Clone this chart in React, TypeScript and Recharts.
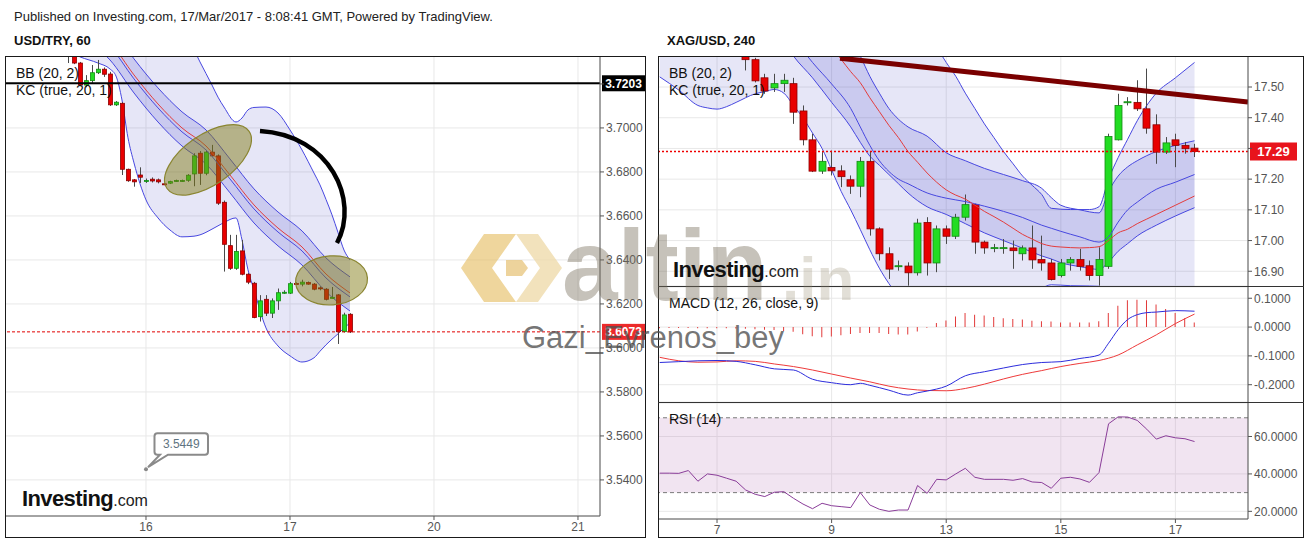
import React from "react";
import {
  ComposedChart,
  Bar,
  Line,
  Area,
  XAxis,
  YAxis,
  CartesianGrid,
  ReferenceLine,
  ReferenceDot,
  ReferenceArea,
} from "recharts";

const FONT = "'Liberation Sans', Arial, Helvetica, sans-serif";

// ---------------- USD/TRY, 60 (x = trading hours from 16 Mar 00:00) ----------------
const usdTryHours = [
  -13, -12, -11, -10, -9, -8, -7, -6, -5, -4, -3, -2, -1, 0, 1, 2, 3, 4, 5, 6, 7, 8, 9, 10, 11, 12, 13, 14, 15, 16,
  17, 18, 19, 20, 21, 22, 23, 24, 25, 26, 27, 28, 29, 30, 31, 32, 33, 34,
];
const usdTryOpen = [
  3.736, 3.736, 3.7295, 3.7195, 3.7215, 3.7251, 3.7267, 3.7245, 3.7105, 3.7112,
  3.6812, 3.6764, 3.6786, 3.6758, 3.6767, 3.6764, 3.6746, 3.6749, 3.6759, 3.6759,
  3.6762, 3.6791, 3.6885, 3.6794, 3.689, 3.6873, 3.6662, 3.6465, 3.6362, 3.6441,
  3.6335, 3.6294, 3.6142, 3.6221, 3.6158, 3.6214, 3.625, 3.6249, 3.6293, 3.629,
  3.6297, 3.629, 3.6273, 3.6267, 3.6227, 3.6241, 3.6074, 3.6153,
];
const usdTryHigh = [
  3.74, 3.738, 3.73, 3.724, 3.7286, 3.7309, 3.7275, 3.7255, 3.7122, 3.7117,
  3.6815, 3.6768, 3.6821, 3.677, 3.6775, 3.677, 3.675, 3.676, 3.6765, 3.6765,
  3.679, 3.6885, 3.6895, 3.69, 3.6923, 3.688, 3.667, 3.6514, 3.6514, 3.6491,
  3.634, 3.63, 3.624, 3.624, 3.6225, 3.627, 3.6262, 3.63, 3.6298, 3.631,
  3.6302, 3.6295, 3.628, 3.6272, 3.6277, 3.6245, 3.616, 3.6158,
];
const usdTryLow = [
  3.7295, 3.729, 3.719, 3.7185, 3.7205, 3.7245, 3.7232, 3.71, 3.71, 3.6786,
  3.6755, 3.6733, 3.675, 3.675, 3.6752, 3.6748, 3.674, 3.6745, 3.6755, 3.6755,
  3.6755, 3.6735, 3.6741, 3.6785, 3.687, 3.665, 3.6347, 3.6355, 3.6355, 3.633,
  3.629, 3.6135, 3.612, 3.6145, 3.6136, 3.6173, 3.6245, 3.6245, 3.6288, 3.628,
  3.6287, 3.6262, 3.6262, 3.6216, 3.6225, 3.6018, 3.607, 3.6068,
];
const usdTryClose = [
  3.734, 3.7295, 3.7195, 3.7215, 3.7251, 3.7267, 3.7244, 3.7105, 3.7117, 3.6812,
  3.676, 3.6755, 3.6776, 3.6761, 3.6759, 3.6755, 3.6744, 3.6756, 3.6761, 3.6761,
  3.6785, 3.6873, 3.6794, 3.689, 3.6873, 3.6658, 3.6471, 3.6362, 3.6438, 3.6335,
  3.6299, 3.6138, 3.6214, 3.6158, 3.6214, 3.6251, 3.6253, 3.6292, 3.6291, 3.6299,
  3.629, 3.6267, 3.6271, 3.6221, 3.623, 3.6074, 3.615, 3.6073,
];
const usdTryBbHours = [-14, -11, -8, -6, -5, -4, -3, -2, 0, 2, 4, 6, 8, 9, 11, 12, 13, 15, 16, 17, 18, 20, 22, 24, 26, 28, 29, 30, 31, 32, 33, 34];
const usdTryBbUpper = [
  3.805, 3.8, 3.795, 3.79, 3.787, 3.784, 3.78, 3.776, 3.768, 3.76, 3.752, 3.744, 3.7355, 3.73, 3.7195, 3.714,
  3.7095, 3.7027, 3.7045, 3.7082, 3.7093, 3.7095, 3.7068, 3.6991, 3.69, 3.6795, 3.6741, 3.6675, 3.6605, 3.6525,
  3.6445, 3.64,
];
const usdTryBbLower = [
  3.7364, 3.7323, 3.7295, 3.7268, 3.7236, 3.7127, 3.6955, 3.6841, 3.6673, 3.6591, 3.6536, 3.6505, 3.6508, 3.6514,
  3.654, 3.6555, 3.657, 3.6591, 3.6491, 3.6355, 3.6264, 3.6091, 3.6009, 3.5964, 3.5936, 3.5955, 3.5985, 3.6014,
  3.604, 3.6064, 3.609, 3.6114,
];
const usdTryKcHours = [-14, -10, -6, -2, 2, 6, 10, 14, 18, 22, 26, 30, 34];
const usdTryKcUpper = [3.767, 3.756, 3.7464, 3.7314, 3.7182, 3.7073, 3.6991, 3.6859, 3.6723, 3.6618, 3.6532, 3.6409, 3.6323];
const usdTryKcBasis = [3.758, 3.747, 3.7373, 3.7223, 3.7091, 3.6982, 3.69, 3.6768, 3.6632, 3.6527, 3.6441, 3.6318, 3.6232];
const usdTryKcLower = [3.75, 3.74, 3.7309, 3.7159, 3.7027, 3.6918, 3.6836, 3.6705, 3.6568, 3.6464, 3.6377, 3.6255, 3.6168];
const usdTryBbBasis = [3.76, 3.7485, 3.7391, 3.7241, 3.7109, 3.7, 3.6918, 3.6786, 3.665, 3.6545, 3.6459, 3.6336, 3.625];
const usdTryDayTicks = [0, 24, 48, 72];
const usdTryDayLabels = ["16", "17", "20", "21"];
const usdTryPriceTicks = [3.54, 3.56, 3.58, 3.6, 3.62, 3.64, 3.66, 3.68, 3.7, 3.72];
const usdTryLevel = 3.7203;
const usdTryLast = 3.6073;
const usdTryCallout = [0, 3.5449];
const usdTryEllipseA = [10.33, 3.6855];
const usdTryEllipseB = [30.92, 3.6307];
const usdTryArcStart = [19, 3.6986];

// ---------------- XAG/USD, 240 (x = 4h bars from 7 Mar 00:00) ----------------
const xagBars = [
  3, 4, 5, 6, 7, 8, 9, 10, 11, 12, 13, 14, 15, 16, 17, 18, 19, 20, 21, 22, 23, 24, 25, 26, 27, 28, 29, 30, 31, 32,
  33, 34, 35, 36, 37, 38, 39, 40, 41, 42, 43, 44, 45, 46, 47, 48, 49, 50,
];
const xagOpen = [
  17.615, 17.589, 17.53, 17.497, 17.511, 17.511, 17.422, 17.328, 17.226, 17.238,
  17.227, 17.198, 17.177, 17.258, 17.038, 16.957, 16.917, 16.917, 16.895, 17.059,
  16.927, 17.038, 17.014, 17.076, 17.117, 16.995, 16.975, 16.975, 16.976, 16.957,
  16.976, 16.938, 16.927, 16.886, 16.927, 16.938, 16.918, 16.886, 16.916, 17.328,
  17.45, 17.45, 17.429, 17.377, 17.288, 17.328, 17.31, 17.301,
];
const xagHigh = [
  17.63, 17.595, 17.543, 17.543, 17.543, 17.53, 17.44, 17.348, 17.288, 17.293,
  17.245, 17.212, 17.272, 17.29, 17.043, 16.978, 16.935, 16.929, 17.071, 17.076,
  17.049, 17.049, 17.087, 17.15, 17.12, 17.0, 16.989, 17.005, 17.0, 16.984,
  17.049, 17.016, 16.94, 16.94, 16.946, 16.973, 16.935, 16.978, 17.348, 17.478,
  17.467, 17.522, 17.56, 17.411, 17.337, 17.348, 17.321, 17.315,
];
const xagLow = [
  17.554, 17.515, 17.478, 17.484, 17.484, 17.38, 17.31, 17.223, 17.217, 17.212,
  17.174, 17.152, 17.141, 17.016, 16.935, 16.875, 16.902, 16.853, 16.886, 16.886,
  16.897, 16.989, 17.005, 17.065, 16.957, 16.957, 16.962, 16.957, 16.908, 16.935,
  16.908, 16.902, 16.87, 16.88, 16.902, 16.902, 16.87, 16.853, 16.908, 17.326,
  17.44, 17.422, 17.348, 17.25, 17.282, 17.239, 17.283, 17.272,
];
const xagClose = [
  17.589, 17.52, 17.487, 17.511, 17.522, 17.418, 17.328, 17.226, 17.258, 17.227,
  17.208, 17.177, 17.258, 17.038, 16.957, 16.907, 16.918, 16.895, 17.057, 16.927,
  17.038, 17.014, 17.076, 17.117, 16.995, 16.976, 16.977, 16.977, 16.967, 16.976,
  16.937, 16.927, 16.873, 16.927, 16.938, 16.916, 16.886, 16.938, 17.339, 17.44,
  17.452, 17.429, 17.366, 17.288, 17.318, 17.31, 17.299, 17.29,
];
const xagBbBars = [
  -6, -4, -2, -1, 0, 1, 2, 4, 5, 6, 7, 8, 9, 10, 11, 12, 13, 14, 15, 16, 17, 18, 19, 21, 22, 23, 24, 25, 26, 27,
  28, 29, 30, 31, 32, 33, 34, 35, 37, 39, 40, 41, 42, 43, 44, 45, 46, 48, 50,
];
const xagBbLower = [
  17.533, 17.49, 17.44, 17.432, 17.428, 17.436, 17.45, 17.478, 17.485, 17.492, 17.48, 17.44, 17.4, 17.35, 17.3,
  17.23, 17.16, 17.1, 17.036, 16.97, 16.91, 16.86, 16.82, 16.78, 16.77, 16.765, 16.76, 16.76, 16.762, 16.765,
  16.77, 16.78, 16.79, 16.8, 16.81, 16.83, 16.845, 16.856, 16.853, 16.852, 16.851, 16.8, 16.74, 16.72, 16.71,
  16.7, 16.7, 16.7, 16.72,
];
const xagBbUpper = [
  17.95, 17.95, 17.94, 17.94, 17.93, 17.93, 17.92, 17.91, 17.905, 17.9, 17.9, 17.89, 17.88, 17.87, 17.86, 17.85,
  17.84, 17.83, 17.82, 17.8, 17.78, 17.76, 17.74, 17.7, 17.68, 17.63, 17.58, 17.535, 17.48, 17.43, 17.38, 17.335,
  17.29, 17.25, 17.21, 17.18, 17.15, 17.105, 17.101, 17.101, 17.11, 17.2, 17.27, 17.33, 17.39, 17.44, 17.48,
  17.53, 17.58,
];
const xagKcBars = [4, 6, 8, 10, 12, 14, 15, 16, 17, 18, 19, 20, 22, 24, 26, 28, 30, 32, 34, 35, 36, 38, 40, 41, 42, 43, 44, 46, 48, 50];
const xagKcUpper = [
  17.95, 17.93, 17.9, 17.85, 17.78, 17.66, 17.601, 17.535, 17.48, 17.43, 17.395, 17.37, 17.34, 17.286, 17.26,
  17.235, 17.215, 17.195, 17.17, 17.14, 17.115, 17.1, 17.09, 17.16, 17.21, 17.24, 17.26, 17.29, 17.31, 17.325,
];
const xagKcBasis = [
  17.8, 17.74, 17.66, 17.58, 17.51, 17.43, 17.37, 17.31, 17.26, 17.225, 17.2, 17.185, 17.155, 17.138, 17.127,
  17.112, 17.095, 17.075, 17.05, 17.04, 17.03, 17.012, 16.995, 17.012, 17.06, 17.1, 17.125, 17.167, 17.19, 17.215,
];
const xagKcLower = [
  17.76, 17.7, 17.601, 17.53, 17.45, 17.37, 17.32, 17.275, 17.245, 17.215, 17.185, 17.155, 17.11, 17.085, 17.055,
  17.025, 17.0, 16.975, 16.95, 16.94, 16.928, 16.915, 16.906, 16.93, 16.965, 16.99, 17.015, 17.05, 17.08, 17.107,
];
const xagMidBars = [
  10, 12, 13, 14, 15, 16, 17, 18, 19, 20, 21, 22, 23, 24, 25, 26, 27, 28, 29, 30, 31, 32, 33, 34, 35, 36, 37, 38,
  39, 40, 41, 42, 43, 44, 45, 46, 47, 48, 49, 50,
];
const xagMid = [
  17.7, 17.63, 17.59, 17.55, 17.514, 17.465, 17.42, 17.375, 17.335, 17.29, 17.255, 17.22, 17.19, 17.165, 17.148,
  17.135, 17.115, 17.095, 17.078, 17.06, 17.04, 17.02, 17.005, 16.99, 16.982, 16.979, 16.977, 16.976, 16.977,
  16.98, 17.0, 17.025, 17.037, 17.055, 17.07, 17.085, 17.1, 17.115, 17.13, 17.145,
];
const xagDayTicks = [0, 12, 24, 36, 48];
const xagDayLabels = ["7", "9", "13", "15", "17"];
const xagPriceTicks = [16.9, 17.0, 17.1, 17.2, 17.3, 17.4, 17.5];
const xagLast = 17.29;
const xagTrend = [
  [12.88, 17.594],
  [55.6, 17.451],
];

const macdBars = [-6, -4, -2, 0, 2, 4, 6, 8, 10, 12, 14, 15, 16, 18, 20, 21, 22, 24, 26, 28, 30, 32, 34, 36, 38, 40, 41, 42, 43, 44, 45, 46, 48, 50];
const macdLine = [
  -0.123, -0.12, -0.117, -0.116, -0.119, -0.131, -0.145, -0.149, -0.181, -0.193, -0.2, -0.195, -0.202, -0.219,
  -0.236, -0.228, -0.222, -0.205, -0.169, -0.155, -0.142, -0.13, -0.123, -0.12, -0.109, -0.097, -0.056, -0.009,
  0.026, 0.043, 0.05, 0.052, 0.057, 0.055,
];
const signalBars = [-6, -4, -2, 0, 2, 4, 6, 8, 10, 12, 14, 16, 18, 20, 22, 24, 26, 28, 30, 32, 34, 36, 38, 40, 42, 44, 46, 48, 50];
const signalLine = [
  -0.105, -0.117, -0.122, -0.121, -0.117, -0.119, -0.128, -0.137, -0.149, -0.163, -0.177, -0.19, -0.205, -0.215,
  -0.22, -0.221, -0.213, -0.198, -0.18, -0.164, -0.151, -0.137, -0.126, -0.116, -0.097, -0.062, -0.027, 0.012,
  0.045,
];
const oscBars = [
  -6, -5, -4, -3, -2, -1, 0, 1, 2, 3, 4, 5, 6, 7, 8, 9, 10, 11, 12, 13, 14, 15, 16, 17, 18, 19, 20, 21, 22, 23, 24,
  25, 26, 27, 28, 29, 30, 31, 32, 33, 34, 35, 36, 37, 38, 39, 40, 41, 42, 43, 44, 45, 46, 47, 48, 49, 50,
];
const macdHist = [
  -0.004, -0.003, -0.003, -0.003, -0.004, -0.004, -0.004, -0.004, -0.005, -0.006,
  -0.008, -0.009, -0.01, -0.014, -0.016, -0.025, -0.032, -0.035, -0.033, -0.028,
  -0.024, -0.021, -0.021, -0.021, -0.024, -0.026, -0.026, -0.015, -0.002, 0.014,
  0.023, 0.037, 0.049, 0.043, 0.04, 0.035, 0.031, 0.028, 0.026, 0.022,
  0.02, 0.019, 0.016, 0.016, 0.016, 0.016, 0.02, 0.049, 0.074, 0.093,
  0.095, 0.093, 0.078, 0.063, 0.049, 0.031, 0.016,
];
const rsiValues = [
  40.4, 40.4, 40.3, 41.8, 36.1, 40.0, 39.3, 37.7, 36.1, 31.4,
  29.1, 27.9, 30.2, 30.5, 27.0, 23.9, 21.4, 24.3, 23.0, 22.5,
  22.0, 30.0, 23.4, 21.1, 20.0, 20.7, 20.7, 33.8, 29.6, 37.1,
  36.8, 40.0, 43.0, 38.2, 37.1, 37.1, 37.1, 36.6, 37.5, 35.7,
  35.4, 32.3, 37.7, 38.2, 37.3, 35.5, 40.7, 66.8, 70.5, 70.4,
  68.6, 63.9, 58.6, 60.4, 59.3, 58.8, 57.3,
];
const macdTicks = [-0.2, -0.1, 0, 0.1];
const rsiTicks = [20, 40, 60];
const rsiBand = [30, 70];

// ---------------- table builders ----------------
type Part = [number[], Record<string, number[]>];
function buildRows(key: string, parts: Part[]) {
  const m = new Map<number, any>();
  for (const [xs, cols] of parts) {
    xs.forEach((x, i) => {
      let r = m.get(x);
      if (!r) {
        r = { [key]: x };
        m.set(x, r);
      }
      for (const name of Object.keys(cols)) r[name] = cols[name][i];
    });
  }
  const rows = Array.from(m.values()).sort((a, b) => a[key] - b[key]);
  rows.forEach((r) => {
    if (r.h != null) r.range = [r.l, r.h];
  });
  return rows;
}

const usdTryRows = buildRows("t", [
  [usdTryHours, { o: usdTryOpen, h: usdTryHigh, l: usdTryLow, c: usdTryClose }],
  [usdTryBbHours, { bbU: usdTryBbUpper, bbL: usdTryBbLower }],
  [usdTryKcHours, { kcU: usdTryKcUpper, kcB: usdTryKcBasis, kcL: usdTryKcLower, mid: usdTryBbBasis }],
]);
const xagRows = buildRows("t", [
  [xagBars, { o: xagOpen, h: xagHigh, l: xagLow, c: xagClose }],
  [xagBbBars, { bbU: xagBbUpper, bbL: xagBbLower }],
  [xagKcBars, { kcU: xagKcUpper, kcB: xagKcBasis, kcL: xagKcLower }],
  [xagMidBars, { mid: xagMid }],
]);
const macdRows = buildRows("t", [
  [oscBars, { hist: macdHist }],
  [macdBars, { macd: macdLine }],
  [signalBars, { signal: signalLine }],
]);
const rsiRows = buildRows("t", [[oscBars, { rsi: rsiValues }]]);

const bbRange = (r: any) => (r.bbL != null ? [r.bbL, r.bbU] : null);
const kcRange = (r: any) => (r.kcL != null ? [r.kcL, r.kcU] : null);

// ---------------- shapes ----------------
const Candle = (props: any) => {
  const { x, y, width, height, payload } = props;
  if (!payload || payload.o == null || !isFinite(y) || !isFinite(height)) return null;
  const { o, h, l, c } = payload;
  const span = h - l;
  const k = span > 0 ? height / span : 0;
  const yTop = y + (h - Math.max(o, c)) * k;
  const yBot = y + (h - Math.min(o, c)) * k;
  const up = c >= o;
  const cx = Math.round(x + width / 2) + 0.5;
  return (
    <g>
      <line x1={cx} x2={cx} y1={y} y2={y + height} stroke="#4a4a4a" strokeWidth={1} />
      <rect
        x={cx - width / 2}
        y={yTop}
        width={width}
        height={Math.max(1, yBot - yTop)}
        fill={up ? "#22dc22" : "#e80000"}
        stroke={up ? "#128a12" : "#8c0000"}
        strokeWidth={0.8}
      />
    </g>
  );
};

function priceTag(text: string, bg: string, w: number, h: number, fs: number) {
  return (props: any) => {
    const vb = props.viewBox || {};
    const x = (vb.x ?? 0) + (vb.width ?? 0) + 2;
    const y = vb.y ?? 0;
    return (
      <g>
        <rect x={x} y={y - h / 2} width={w} height={h} fill={bg} />
        <text
          x={x + w / 2}
          y={y}
          dy="0.36em"
          textAnchor="middle"
          fill="#fff"
          fontSize={fs}
          fontWeight="bold"
          fontFamily={FONT}
        >
          {text}
        </text>
      </g>
    );
  };
}

const OLIVE_FILL = "rgba(128,122,16,0.48)";
const OLIVE_STROKE = "#8a8530";

const EllipseA = (p: any) => (
  <ellipse
    cx={p.cx}
    cy={p.cy}
    rx={50}
    ry={25}
    transform={`rotate(-35 ${p.cx} ${p.cy})`}
    fill={OLIVE_FILL}
    stroke={OLIVE_STROKE}
    strokeWidth={1.2}
  />
);
const EllipseB = (p: any) => (
  <ellipse
    cx={p.cx}
    cy={p.cy}
    rx={36}
    ry={24.5}
    transform={`rotate(-4 ${p.cx} ${p.cy})`}
    fill={OLIVE_FILL}
    stroke={OLIVE_STROKE}
    strokeWidth={1.2}
  />
);
const Arc = (p: any) => (
  <path
    d={`M${p.cx},${p.cy} C${p.cx + 70},${p.cy + 4} ${p.cx + 100},${p.cy + 69} ${p.cx + 77},${p.cy + 112}`}
    fill="none"
    stroke="#000"
    strokeWidth={4.5}
  />
);
const Callout = (p: any) => {
  const { cx, cy } = p;
  const x0 = cx + 8.5;
  const x1 = cx + 62;
  const y0 = cy - 36;
  const y1 = cy - 14.5;
  return (
    <g>
      <circle cx={cx} cy={cy} r={2} fill="#888" />
      <path
        d={`M${x0 + 3},${y0} L${x1 - 3},${y0} Q${x1},${y0} ${x1},${y0 + 3} L${x1},${y1 - 3} Q${x1},${y1} ${x1 - 3},${y1} L${cx + 22},${y1} L${cx + 2},${cy - 2} L${cx + 14},${y1} L${x0 + 3},${y1} Q${x0},${y1} ${x0},${y1 - 3} L${x0},${y0 + 3} Q${x0},${y0} ${x0 + 3},${y0} Z`}
        fill="#fff"
        stroke="#8a8a8a"
        strokeWidth={2}
      />
      <text x={(x0 + x1) / 2} y={(y0 + y1) / 2} dy="0.36em" textAnchor="middle" fontSize={12} fill="#5f7481" fontFamily={FONT}>
        {usdTryCallout[1].toFixed(4)}
      </text>
    </g>
  );
};

const AX = { fontSize: 12, fill: "#555", fontFamily: FONT };
const BAND_STROKE = "#4747e0";
const BAND_FILL = "#3030c0";

// ---------------- charts ----------------
function UsdTryChart() {
  return (
    <ComposedChart width={640} height={481} data={usdTryRows} margin={{ top: 0, right: 0, bottom: 0, left: 0 }}>
      <CartesianGrid stroke="#e8e8e8" />
      <XAxis
        type="number"
        dataKey="t"
        domain={[-23.5, 75.67]}
        ticks={usdTryDayTicks}
        interval={0}
        allowDataOverflow
        tickFormatter={(v: number) => usdTryDayLabels[usdTryDayTicks.indexOf(v)] ?? ""}
        tick={AX}
        tickSize={4}
        height={21}
        axisLine={{ stroke: "#555" }}
        tickLine={{ stroke: "#555" }}
      />
      <YAxis
        orientation="right"
        type="number"
        domain={[3.5236, 3.7327]}
        ticks={usdTryPriceTicks}
        interval={0}
        allowDataOverflow
        width={45}
        tick={AX}
        tickSize={4}
        tickFormatter={(v: number) => (v === 3.72 ? "" : v.toFixed(4))}
        axisLine={{ stroke: "#555" }}
        tickLine={{ stroke: "#555" }}
      />
      <Area
        dataKey={bbRange}
        type="monotone"
        stroke={BAND_STROKE}
        strokeWidth={1}
        fill={BAND_FILL}
        fillOpacity={0.12}
        connectNulls
        dot={false}
        activeDot={false}
        isAnimationActive={false}
      />
      <Area
        dataKey={kcRange}
        type="monotone"
        stroke={BAND_STROKE}
        strokeWidth={1}
        fill={BAND_FILL}
        fillOpacity={0.15}
        connectNulls
        dot={false}
        activeDot={false}
        isAnimationActive={false}
      />
      <Line dataKey="kcB" type="monotone" stroke={BAND_STROKE} strokeWidth={1} dot={false} activeDot={false} connectNulls isAnimationActive={false} />
      <Line dataKey="mid" type="monotone" stroke="#e43c3c" strokeWidth={1} dot={false} activeDot={false} connectNulls isAnimationActive={false} />
      <Bar dataKey="range" barSize={4} shape={Candle} isAnimationActive={false} />
      <ReferenceLine y={usdTryLevel} stroke="#000" strokeWidth={2} label={priceTag(usdTryLevel.toFixed(4), "#000", 43, 16, 12)} />
      <ReferenceLine y={usdTryLast} stroke="#e00000" strokeWidth={1} strokeDasharray="3 2" label={priceTag(usdTryLast.toFixed(4), "#ec2a2a", 43, 16, 12)} />
      <ReferenceDot x={usdTryEllipseA[0]} y={usdTryEllipseA[1]} r={1} shape={EllipseA} />
      <ReferenceDot x={usdTryEllipseB[0]} y={usdTryEllipseB[1]} r={1} shape={EllipseB} />
      <ReferenceDot x={usdTryArcStart[0]} y={usdTryArcStart[1]} r={1} shape={Arc} />
      <ReferenceDot x={usdTryCallout[0]} y={usdTryCallout[1]} r={1} shape={Callout} />
    </ComposedChart>
  );
}

const XAG_DOMAIN: [number, number] = [-6.18, 55.6];

function XagChart() {
  return (
    <ComposedChart width={645} height={230} data={xagRows} margin={{ top: 0, right: 0, bottom: 0, left: 0 }}>
      <CartesianGrid stroke="#e8e8e8" />
      <XAxis type="number" dataKey="t" domain={XAG_DOMAIN} ticks={xagDayTicks} interval={0} allowDataOverflow hide />
      <YAxis
        orientation="right"
        type="number"
        domain={[16.852, 17.601]}
        ticks={xagPriceTicks}
        interval={0}
        allowDataOverflow
        width={55}
        tick={AX}
        tickSize={4}
        tickFormatter={(v: number) => (v === 17.3 ? "" : v.toFixed(2))}
        axisLine={{ stroke: "#555" }}
        tickLine={{ stroke: "#555" }}
      />
      <Area
        dataKey={bbRange}
        type="monotone"
        stroke={BAND_STROKE}
        strokeWidth={1}
        fill={BAND_FILL}
        fillOpacity={0.12}
        connectNulls
        dot={false}
        activeDot={false}
        isAnimationActive={false}
      />
      <Area
        dataKey={kcRange}
        type="monotone"
        stroke={BAND_STROKE}
        strokeWidth={1}
        fill={BAND_FILL}
        fillOpacity={0.15}
        connectNulls
        dot={false}
        activeDot={false}
        isAnimationActive={false}
      />
      <Line dataKey="kcB" type="monotone" stroke={BAND_STROKE} strokeWidth={1} dot={false} activeDot={false} connectNulls isAnimationActive={false} />
      <Line dataKey="mid" type="monotone" stroke="#e43c3c" strokeWidth={1} dot={false} activeDot={false} connectNulls isAnimationActive={false} />
      <Bar dataKey="range" barSize={7} shape={Candle} isAnimationActive={false} />
      <ReferenceLine y={xagLast} stroke="#ee0000" strokeWidth={1.4} strokeDasharray="2 2" label={priceTag(xagLast.toFixed(2), "#e8141c", 47, 18, 13)} />
      <ReferenceLine
        segment={[
          { x: xagTrend[0][0], y: xagTrend[0][1] },
          { x: xagTrend[1][0], y: xagTrend[1][1] },
        ]}
        stroke="#7a0000"
        strokeWidth={5}
        ifOverflow="hidden"
      />
    </ComposedChart>
  );
}

function MacdChart() {
  return (
    <ComposedChart width={645} height={115} data={macdRows} margin={{ top: 0, right: 0, bottom: 0, left: 0 }}>
      <CartesianGrid stroke="#e8e8e8" />
      <XAxis type="number" dataKey="t" domain={XAG_DOMAIN} ticks={xagDayTicks} interval={0} allowDataOverflow hide />
      <YAxis
        orientation="right"
        type="number"
        domain={[-0.26, 0.139]}
        ticks={macdTicks}
        interval={0}
        allowDataOverflow
        width={55}
        tick={AX}
        tickSize={4}
        tickFormatter={(v: number) => v.toFixed(4)}
        axisLine={{ stroke: "#555" }}
        tickLine={{ stroke: "#555" }}
      />
      <Bar dataKey="hist" barSize={1} fill="#e23a3a" isAnimationActive={false} />
      <Line dataKey="signal" type="monotone" stroke="#ee3a3a" strokeWidth={1} dot={false} activeDot={false} connectNulls isAnimationActive={false} />
      <Line dataKey="macd" type="monotone" stroke="#2c2cdc" strokeWidth={1} dot={false} activeDot={false} connectNulls isAnimationActive={false} />
    </ComposedChart>
  );
}

function RsiChart() {
  return (
    <ComposedChart width={645} height={134} data={rsiRows} margin={{ top: 0, right: 0, bottom: 0, left: 0 }}>
      <CartesianGrid stroke="#e8e8e8" />
      <XAxis
        type="number"
        dataKey="t"
        domain={XAG_DOMAIN}
        ticks={xagDayTicks}
        interval={0}
        allowDataOverflow
        tickFormatter={(v: number) => xagDayLabels[xagDayTicks.indexOf(v)] ?? ""}
        tick={AX}
        tickSize={4}
        height={18}
        axisLine={{ stroke: "#555" }}
        tickLine={{ stroke: "#555" }}
      />
      <YAxis
        orientation="right"
        type="number"
        domain={[15.9, 77.9]}
        ticks={rsiTicks}
        interval={0}
        allowDataOverflow
        width={55}
        tick={AX}
        tickSize={4}
        tickFormatter={(v: number) => v.toFixed(4)}
        axisLine={{ stroke: "#555" }}
        tickLine={{ stroke: "#555" }}
      />
      <ReferenceArea y1={rsiBand[0]} y2={rsiBand[1]} fill="#b878b8" fillOpacity={0.2} stroke="none" />
      <ReferenceLine y={rsiBand[1]} stroke="#7a7a7a" strokeDasharray="4 3" />
      <ReferenceLine y={rsiBand[0]} stroke="#7a7a7a" strokeDasharray="4 3" />
      <Line dataKey="rsi" type="linear" stroke="#8a3d99" strokeWidth={1} dot={false} activeDot={false} isAnimationActive={false} />
    </ComposedChart>
  );
}

// ---------------- page ----------------
const abs = (l: number, t: number, extra: React.CSSProperties = {}): React.CSSProperties => ({
  position: "absolute",
  left: l,
  top: t,
  ...extra,
});

function Investing({ left, top }: { left: number; top: number }) {
  return (
    <div style={abs(left, top, { lineHeight: "22px", whiteSpace: "nowrap", pointerEvents: "none" })}>
      <span style={{ fontSize: 22, fontWeight: "bold", color: "#111", letterSpacing: -0.6 }}>Investing</span>
      <span style={{ fontSize: 16, color: "#222" }}>.com</span>
    </div>
  );
}

export default function App() {
  const legend: React.CSSProperties = { fontSize: 14, lineHeight: "16px", color: "#111", whiteSpace: "nowrap" };
  return (
    <div style={abs(0, 0, { width: 1304, height: 540, background: "#fff", fontFamily: FONT, overflow: "hidden" })}>
      <div style={abs(14, 9, { fontSize: 13, lineHeight: "15px", color: "#222", whiteSpace: "nowrap" })}>
        Published on Investing.com, 17/Mar/2017 - 8:08:41 GMT, Powered by TradingView.
      </div>
      <div style={abs(14, 33, { fontSize: 13, lineHeight: "15px", fontWeight: "bold", color: "#111" })}>USD/TRY, 60</div>
      <div style={abs(667, 33, { fontSize: 13, lineHeight: "15px", fontWeight: "bold", color: "#111" })}>XAG/USD, 240</div>

      <div style={abs(5, 56)}>
        <UsdTryChart />
      </div>
      <div style={abs(658, 56)}>
        <XagChart />
      </div>
      <div style={abs(658, 287)}>
        <MacdChart />
      </div>
      <div style={abs(658, 403)}>
        <RsiChart />
      </div>

      {/* frames */}
      <div style={abs(5, 56, { width: 641, height: 482, border: "1px solid #1a1a1a", boxSizing: "border-box", pointerEvents: "none" })} />
      <div style={abs(658, 56, { width: 646, height: 482, border: "1px solid #1a1a1a", boxSizing: "border-box", pointerEvents: "none" })} />
      <div style={abs(658, 286, { width: 646, height: 1, background: "#333" })} />
      <div style={abs(658, 402, { width: 646, height: 1, background: "#333" })} />

      {/* legends */}
      <div style={abs(16, 65, legend)}>BB (20, 2)</div>
      <div style={abs(16, 82, legend)}>KC (true, 20, 1)</div>
      <div style={abs(669, 65, legend)}>BB (20, 2)</div>
      <div style={abs(669, 82, legend)}>KC (true, 20, 1)</div>
      <div style={abs(669, 295, legend)}>MACD (12, 26, close, 9)</div>
      <div style={abs(669, 411, legend)}>RSI (14)</div>

      <Investing left={22} top={488} />

      {/* watermark */}
      <svg width={1304} height={540} style={abs(0, 0, { pointerEvents: "none" })}>
        <polygon points="484,234 516,234 492,268 516,302 484,302 461,268" fill="#e5bb5c" fillOpacity={0.6} />
        <polygon points="516,234 538,234 562,268 538,302 516,302 540,268" fill="#eed8a6" fillOpacity={0.75} />
        <polygon points="506,260 522,260 528,268 522,276 506,276" fill="#e5c172" fillOpacity={0.7} />
      </svg>
      <div
        style={abs(562, 215, {
          fontSize: 100,
          lineHeight: "100px",
          fontWeight: "bold",
          color: "rgba(120,110,90,0.42)",
          whiteSpace: "nowrap",
          pointerEvents: "none",
        })}
      >
        altin
      </div>
      <div
        style={abs(782, 248, {
          fontSize: 62,
          lineHeight: "62px",
          fontWeight: "bold",
          color: "rgba(150,140,110,0.28)",
          whiteSpace: "nowrap",
          pointerEvents: "none",
        })}
      >
        .in
      </div>
      <Investing left={673} top={259} />
      <div
        style={abs(522, 322, {
          fontSize: 31,
          lineHeight: "31px",
          color: "rgba(80,80,80,0.78)",
          whiteSpace: "nowrap",
          pointerEvents: "none",
        })}
      >
        Gazi_Evrenos_bey
      </div>
    </div>
  );
}
